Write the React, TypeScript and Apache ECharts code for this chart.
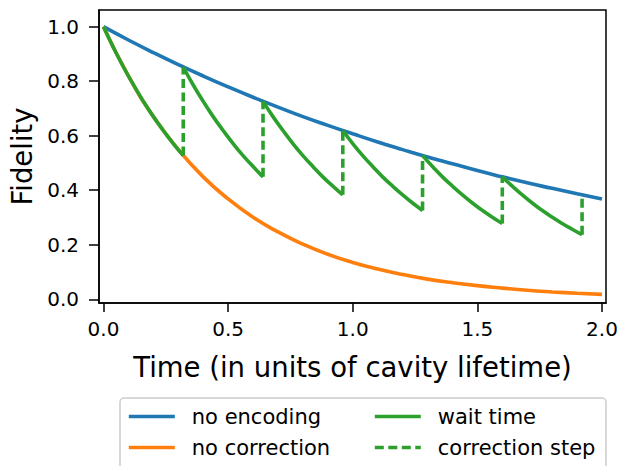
import React, { useEffect, useRef } from "react";
import * as echarts from "echarts";

// Time samples (in units of cavity lifetime)
const timeGrid = [0, 0.1, 0.2, 0.3, 0.4, 0.5, 0.6, 0.7, 0.8, 0.9, 1.0, 1.1, 1.2, 1.3, 1.4, 1.5, 1.6, 1.7, 1.8, 1.9, 2.0];
// "no encoding" fidelity
const noEncoding = [1.0, 0.951, 0.905, 0.861, 0.819, 0.779, 0.741, 0.705, 0.67, 0.638, 0.607, 0.577, 0.549, 0.522, 0.497, 0.472, 0.449, 0.427, 0.407, 0.387, 0.368];
// "no correction" fidelity
const noCorrection = [1.0, 0.819, 0.67, 0.549, 0.449, 0.368, 0.301, 0.247, 0.202, 0.165, 0.135, 0.111, 0.091, 0.074, 0.061, 0.05, 0.041, 0.033, 0.027, 0.022, 0.018];

// "wait time" segments: [time, fidelity]
const waitSeg1 = [[0, 1.0], [0.04, 0.923], [0.08, 0.852], [0.12, 0.787], [0.16, 0.726], [0.2, 0.67], [0.24, 0.619], [0.28, 0.571], [0.32, 0.527]];
const waitSeg2 = [[0.32, 0.852], [0.36, 0.786], [0.4, 0.726], [0.44, 0.67], [0.48, 0.619], [0.52, 0.571], [0.56, 0.527], [0.6, 0.487], [0.64, 0.449]];
const waitSeg3 = [[0.64, 0.726], [0.68, 0.67], [0.72, 0.619], [0.76, 0.571], [0.8, 0.527], [0.84, 0.487], [0.88, 0.449], [0.92, 0.415], [0.96, 0.383]];
const waitSeg4 = [[0.96, 0.619], [1.0, 0.571], [1.04, 0.527], [1.08, 0.487], [1.12, 0.449], [1.16, 0.415], [1.2, 0.383], [1.24, 0.353], [1.28, 0.326]];
const waitSeg5 = [[1.28, 0.527], [1.32, 0.487], [1.36, 0.449], [1.4, 0.415], [1.44, 0.383], [1.48, 0.353], [1.52, 0.326], [1.56, 0.301], [1.6, 0.278]];
const waitSeg6 = [[1.6, 0.449], [1.64, 0.415], [1.68, 0.383], [1.72, 0.353], [1.76, 0.326], [1.8, 0.301], [1.84, 0.278], [1.88, 0.257], [1.92, 0.237]];
const waitSegments = [waitSeg1, waitSeg2, waitSeg3, waitSeg4, waitSeg5, waitSeg6];

// "correction step" jumps: time, fidelity before, fidelity after
const correctionTimes = [0.32, 0.64, 0.96, 1.28, 1.6, 1.92];
const correctionLow = [0.527, 0.449, 0.383, 0.326, 0.278, 0.237];
const correctionHigh = [0.852, 0.726, 0.619, 0.527, 0.449, 0.383];

const xTicks = [0, 0.5, 1.0, 1.5, 2.0];
const yTicks = [0, 0.2, 0.4, 0.6, 0.8, 1.0];

const BLUE = "#1f77b4";
const ORANGE = "#ff7f0e";
const GREEN = "#2ca02c";
const FONT = "DejaVu Sans";
const LW = 3.6;

export default function App() {
  const ref = useRef<HTMLDivElement>(null);
  useEffect(() => {
    if (!ref.current) return;
    const chart = echarts.init(ref.current, null, { renderer: "svg" });
    const series: any[] = [
      {
        name: "no encoding",
        type: "line",
        data: timeGrid.map((t, i) => [t, noEncoding[i]]),
        smooth: true,
        symbol: "none",
        lineStyle: { color: BLUE, width: LW },
        itemStyle: { color: BLUE },
      },
      {
        name: "no correction",
        type: "line",
        data: timeGrid.map((t, i) => [t, noCorrection[i]]),
        smooth: true,
        symbol: "none",
        lineStyle: { color: ORANGE, width: LW },
        itemStyle: { color: ORANGE },
      },
    ];
    waitSegments.forEach((seg, k) => {
      series.push({
        name: "wait time",
        type: "line",
        data: seg,
        smooth: true,
        symbol: "none",
        lineStyle: { color: GREEN, width: LW },
        itemStyle: { color: GREEN },
      });
      series.push({
        name: "correction step",
        type: "line",
        data: [
          [correctionTimes[k], correctionLow[k]],
          [correctionTimes[k], correctionHigh[k]],
        ],
        symbol: "none",
        lineStyle: { color: GREEN, width: LW, type: [9, 4.5] },
        itemStyle: { color: GREEN },
      });
    });

    const legendCommon = {
      orient: "vertical",
      top: 406,
      padding: 0,
      itemWidth: 46,
      itemHeight: 14,
      itemGap: 10,
      selectedMode: false,
      itemStyle: { opacity: 0, borderWidth: 0 },
      lineStyle: { width: LW },
      textStyle: {
        fontFamily: FONT,
        fontSize: 21,
        lineHeight: 21,
        color: "#000",
        padding: [0, 0, 0, 12],
      },
    };

    chart.setOption({
      animation: false,
      backgroundColor: "#fff",
      grid: {
        left: 99,
        top: 10,
        width: 507,
        height: 293,
        show: true,
        borderColor: "#000",
        borderWidth: 1.5,
      },
      xAxis: {
        type: "value",
        min: -0.018,
        max: 2.016,
        splitLine: { show: false },
        axisLine: { show: true, onZero: false, lineStyle: { color: "#000", width: 1.5 } },
        axisTick: {
          show: true,
          length: 9,
          customValues: xTicks,
          lineStyle: { color: "#000", width: 1.5 },
        },
        axisLabel: {
          customValues: xTicks,
          formatter: (v: number) => v.toFixed(1),
          fontFamily: FONT,
          fontSize: 20,
          color: "#000",
          margin: 16,
        },
        name: "Time (in units of cavity lifetime)",
        nameLocation: "middle",
        nameGap: 50,
        nameTextStyle: { fontFamily: FONT, fontSize: 27.5, color: "#000" },
      },
      yAxis: {
        type: "value",
        min: -0.0136,
        max: 1.061,
        splitLine: { show: false },
        axisLine: { show: true, onZero: false, lineStyle: { color: "#000", width: 1.5 } },
        axisTick: {
          show: true,
          length: 10,
          customValues: yTicks,
          lineStyle: { color: "#000", width: 1.5 },
        },
        axisLabel: {
          customValues: yTicks,
          formatter: (v: number) => v.toFixed(1),
          fontFamily: FONT,
          fontSize: 20,
          color: "#000",
          margin: 20,
        },
        name: "Fidelity",
        nameLocation: "middle",
        nameGap: 60,
        nameTextStyle: { fontFamily: FONT, fontSize: 27.5, color: "#000" },
      },
      legend: [
        { ...legendCommon, left: 127, data: ["no encoding", "no correction"] },
        { ...legendCommon, left: 373, data: ["wait time", "correction step"] },
      ],
      graphic: [
        {
          type: "rect",
          z: -1,
          shape: { x: 120, y: 398, width: 486, height: 90, r: 4 },
          style: { fill: "#fff", stroke: "#cccccc", lineWidth: 1.5 },
        },
      ],
      series,
    });
    return () => chart.dispose();
  }, []);
  return (
    <div
      ref={ref}
      style={{ position: "fixed", left: 0, top: 0, width: 621, height: 466, background: "#fff" }}
    />
  );
}
